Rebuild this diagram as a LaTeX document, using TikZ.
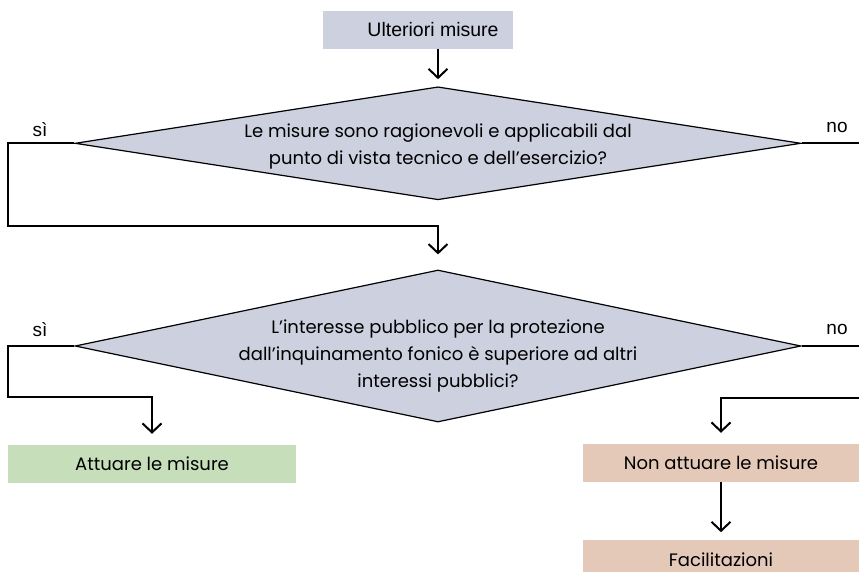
\documentclass[tikz,border=0pt]{standalone}
\usepackage{fontspec}
\setmainfont{Poppins}
\newfontfamily\helv{Liberation Sans}
\usepackage{tikz}
\usetikzlibrary{positioning,arrows.meta,shapes.geometric}
\definecolor{qgray}{RGB}{205,208,222}
\definecolor{okgreen}{RGB}{198,222,185}
\definecolor{notan}{RGB}{228,201,184}

\begin{document}
\begin{tikzpicture}[
   x=1pt,y=-1pt,
   box/.style={minimum height=38pt,inner sep=0pt,font=\fontsize{18}{27}\selectfont},
   ask/.style={diamond,draw,line width=1.2pt,fill=qgray,inner sep=0pt,
      minimum width=726pt},
   qtext/.style={align=center,font=\fontsize{18}{27}\selectfont},
   flow/.style={-{Straight Barb[length=9pt,width=19pt]},line width=2pt},
   wire/.style={line width=2pt},
   lbl/.style={font=\helv\fontsize{19}{20}\selectfont},
]
\useasboundingbox (0,0) rectangle (859,572);

\node[box,fill=qgray,minimum width=190pt,
   label={[font=\helv\fontsize{19.5}{20}\selectfont,xshift=15pt]center:Ulteriori misure}] (ulteriori) at (418,30) {};
\node[ask,minimum height=113pt,below=37pt of ulteriori,xshift=20pt,
   label={[qtext,yshift=-3pt]center:{Le misure sono ragionevoli e applicabili dal\\punto di vista tecnico e dell’esercizio?}}] (ragionevoli) {};
\node[ask,minimum height=152pt,below=69pt of ragionevoli,
   label={[qtext,yshift=-10pt]center:{L’interesse pubblico per la protezione\\dall’inquinamento fonico è superiore ad altri\\interessi pubblici?}}] (interesse) {};
\node[box,fill=okgreen,minimum width=288pt] (attuare) at (152,464) {Attuare le misure};
\node[box,fill=notan,minimum width=276pt] (nonattuare) at (721,463) {Non attuare le misure};
\node[box,fill=notan,minimum width=276pt,below=58pt of nonattuare] (facilitazioni) {Facilitazioni};

% answer labels
\node[lbl] (si1) at (40,130) {sì};
\node[lbl] (no1) at (837,127) {no};
\node[lbl] (si2) at (40,330) {sì};
\node[lbl] (no2) at (837,329) {no};

\coordinate (edge) at (859,0);
\coordinate (siturn1) at (8,226);
\coordinate (siturn2) at (8,397);
\coordinate (noturn2) at (859,398);

\draw[flow,shorten >=7pt] (ulteriori.south -| ragionevoli.north) -- (ragionevoli.north);
\draw[flow,shorten >=15pt] (ragionevoli.west) -| (siturn1) -| (interesse.north);
\draw[wire] (ragionevoli.east) -- (ragionevoli.east -| edge);
\draw[flow,shorten >=11pt] (interesse.west) -| (siturn2) -| (attuare.north);
\draw[wire] (interesse.east) -- (interesse.east -| edge);
\draw[flow,shorten >=11pt] (noturn2) -| (nonattuare.north);
\draw[flow,shorten >=8pt] (nonattuare.south) -- (facilitazioni.north);
\end{tikzpicture}
\end{document}
